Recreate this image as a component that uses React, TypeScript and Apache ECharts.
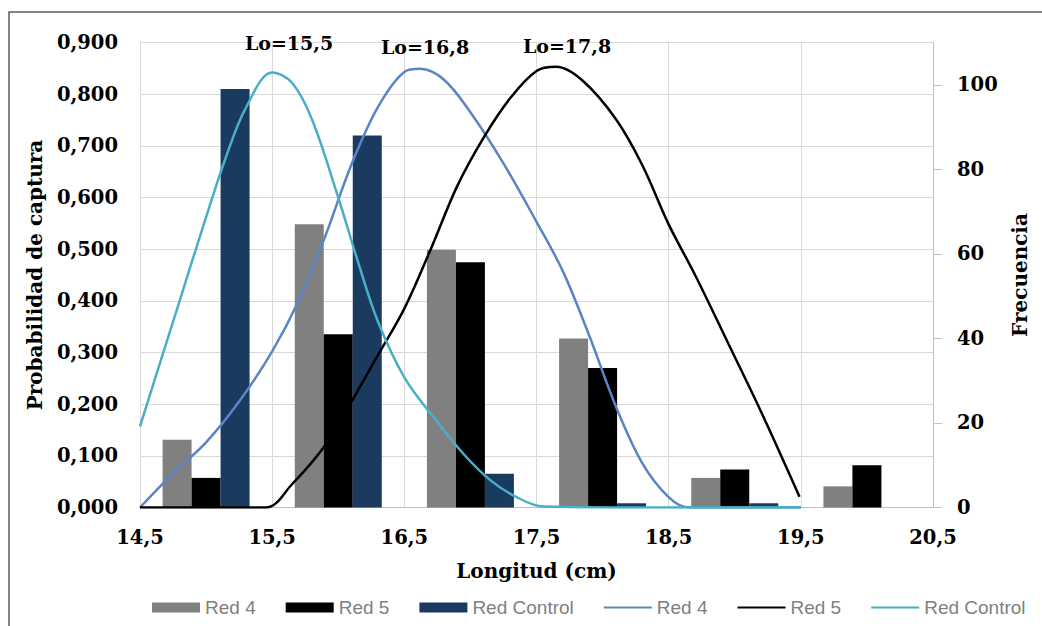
import React, { useEffect, useRef } from "react";
import * as echarts from "echarts";

// Bar categories (length bins centred on 15..20 cm)
const binCenters = ["15", "16", "17", "18", "19", "20"];
// Frequencies (right axis)
const freqRed4 = [16, 67, 61, 40, 7, 5];
const freqRed5 = [7, 41, 58, 33, 9, 10];
const freqControl = [99, 88, 8, 1, 1, 0];

// Selection curves (left axis, probability of capture)
const red4X = [14.5, 14.75, 15.0, 15.25, 15.5, 15.7, 15.9, 16.1, 16.3, 16.5, 16.62, 16.8, 17.0, 17.25, 17.5, 17.7, 17.9, 18.1, 18.3, 18.5, 18.65, 19.5];
const red4Y = [0, 0.066, 0.126, 0.205, 0.302, 0.4, 0.524, 0.664, 0.775, 0.843, 0.849, 0.828, 0.765, 0.666, 0.553, 0.457, 0.332, 0.196, 0.086, 0.02, 0, 0];

const red5X = [14.5, 15.45, 15.65, 15.9, 16.1, 16.3, 16.5, 16.7, 16.9, 17.1, 17.3, 17.5, 17.65, 17.85, 18.1, 18.3, 18.5, 18.7, 18.95, 19.2, 19.49];
const red5Y = [0, 0, 0.045, 0.12, 0.205, 0.295, 0.385, 0.5, 0.622, 0.716, 0.792, 0.845, 0.853, 0.826, 0.752, 0.663, 0.548, 0.45, 0.318, 0.185, 0.021];

const controlX = [14.5, 14.8, 15.0, 15.15, 15.3, 15.5, 15.65, 15.8, 16.0, 16.15, 16.3, 16.5, 16.72, 16.95, 17.15, 17.35, 17.55, 18.5, 19.5];
const controlY = [0.157, 0.4, 0.562, 0.678, 0.773, 0.842, 0.822, 0.752, 0.6, 0.475, 0.36, 0.252, 0.175, 0.103, 0.053, 0.02, 0.002, 0, 0];

const xTicks = [14.5, 15.5, 16.5, 17.5, 18.5, 19.5, 20.5];
const rightTicks = [0, 20, 40, 60, 80, 100];
const loLabels = ["Lo=15,5", "Lo=16,8", "Lo=17,8"];

const SERIF = "'DejaVu Serif', 'Liberation Serif', serif";
const LEGEND_FONT = "'Liberation Sans', Arial, sans-serif";
const LINE_ICON = "path://M0,0 L0.01,0 M0,4 L48,4 L48,6 L0,6 Z M48,10 L47.99,10";

export default function App() {
  const ref = useRef<HTMLDivElement>(null);
  useEffect(() => {
    if (!ref.current) return;
    const chart = echarts.init(ref.current, null, { renderer: "svg" });
    const lineSeries = (name: string, xs: number[], ys: number[], color: string) => ({
      name,
      type: "line",
      xAxisIndex: 1,
      yAxisIndex: 0,
      data: xs.map((x, i) => [x, ys[i]]),
      smooth: 0.35,
      symbol: "none",
      lineStyle: { color, width: 2.5 },
      itemStyle: { color },
      z: 3,
    });
    const barSeries = (name: string, data: number[], color: string) => ({
      name,
      type: "bar",
      xAxisIndex: 0,
      yAxisIndex: 1,
      data,
      barWidth: 29,
      barGap: "0%",
      itemStyle: { color },
      z: 2,
    });
    chart.setOption({
      animation: false,
      backgroundColor: "#fff",
      grid: { left: 140, right: 109, top: 42.5, bottom: 118.5, containLabel: false },
      legend: {
        left: 147,
        top: 593,
        itemWidth: 48,
        itemHeight: 10,
        itemGap: 30,
        textStyle: { fontFamily: LEGEND_FONT, fontSize: 19, color: "#7f7f7f" },
        formatter: (n: string) => n.replace("#", ""),
        data: [
          { name: "Red 4", icon: "rect" },
          { name: "Red 5", icon: "rect" },
          { name: "Red Control", icon: "rect" },
          { name: "Red 4#", icon: LINE_ICON },
          { name: "Red 5#", icon: LINE_ICON },
          { name: "Red Control#", icon: LINE_ICON },
        ],
      },
      xAxis: [
        {
          type: "category",
          data: binCenters,
          show: false,
          boundaryGap: true,
        },
        {
          type: "value",
          min: 14.5,
          max: 20.5,
          position: "bottom",
          name: "Longitud (cm)",
          nameLocation: "middle",
          nameGap: 53,
          nameTextStyle: { fontFamily: SERIF, fontWeight: "bold", fontSize: 20, color: "#000" },
          axisLine: { show: true, lineStyle: { color: "#bfbfbf", width: 1 } },
          axisTick: { show: false, customValues: xTicks },
          axisLabel: {
            customValues: xTicks,
            margin: 20,
            fontFamily: SERIF,
            fontWeight: "bold",
            fontSize: 19.5,
            color: "#000",
            formatter: (v: number) => v.toFixed(1).replace(".", ","),
          },
          splitLine: { show: true, lineStyle: { color: "#d9d9d9", width: 1 } },
        },
      ],
      yAxis: [
        {
          type: "value",
          min: 0,
          max: 0.9,
          interval: 0.1,
          position: "left",
          name: "Probabilidad de captura",
          nameLocation: "middle",
          nameRotate: 90,
          nameGap: 95,
          nameTextStyle: { fontFamily: SERIF, fontWeight: "bold", fontSize: 20, color: "#000" },
          axisLine: { show: false },
          axisTick: { show: false },
          axisLabel: {
            margin: 22,
            fontFamily: SERIF,
            fontWeight: "bold",
            fontSize: 19.5,
            color: "#000",
            formatter: (v: number) => v.toFixed(3).replace(".", ","),
          },
          splitLine: { show: true, lineStyle: { color: "#d9d9d9", width: 1 } },
        },
        {
          type: "value",
          min: 0,
          max: 110,
          position: "right",
          name: "Frecuencia",
          nameLocation: "middle",
          nameRotate: 90,
          nameGap: 77,
          nameTextStyle: { fontFamily: SERIF, fontWeight: "bold", fontSize: 20, color: "#000" },
          axisLine: { show: true, lineStyle: { color: "#bfbfbf", width: 1 } },
          axisTick: { show: true, length: 9, inside: false, customValues: rightTicks, lineStyle: { color: "#bfbfbf" } },
          axisLabel: {
            customValues: rightTicks,
            margin: 24,
            fontFamily: SERIF,
            fontWeight: "bold",
            fontSize: 19.5,
            color: "#000",
          },
          splitLine: { show: false },
        },
      ],
      graphic: [
        {
          type: "rect",
          silent: true,
          shape: { x: 9, y: 12, width: 1100, height: 700 },
          style: { fill: "none", stroke: "#5a5a5a", lineWidth: 1.5 },
          z: -10,
        },
        ...loLabels.map((t, i) => ({
          type: "text",
          x: [289, 425, 567][i],
          y: [43, 47, 46][i],
          style: {
            text: t,
            fontFamily: SERIF,
            fontWeight: "bold",
            fontSize: 19,
            fill: "#000",
            align: "center",
            verticalAlign: "middle",
          },
          z: 10,
        })),
      ],
      series: [
        barSeries("Red 4", freqRed4, "#808080"),
        barSeries("Red 5", freqRed5, "#000000"),
        barSeries("Red Control", freqControl, "#1b3a5f"),
        lineSeries("Red 4#", red4X, red4Y, "#5a85c4"),
        lineSeries("Red 5#", red5X, red5Y, "#000000"),
        lineSeries("Red Control#", controlX, controlY, "#4aaec6"),
      ],
    });
    return () => chart.dispose();
  }, []);
  return <div ref={ref} style={{ position: "absolute", left: 0, top: 0, width: 1042, height: 626 }} />;
}
